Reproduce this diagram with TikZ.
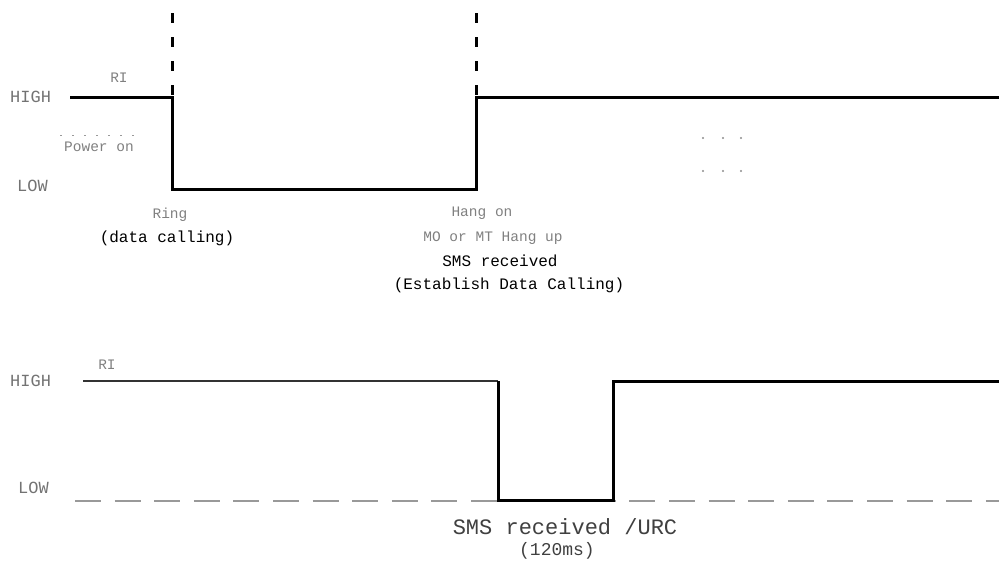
\documentclass[tikz,border=0pt]{standalone}
\usepackage{fontspec}
\setmonofont{Liberation Mono}
\tikzset{
  signal/.style={
    line width=3pt,
    line join=miter
  },
  thinsignal/.style={
    line width=2pt,
    black!80
  },
  guide/.style={
    line width=3pt,
    dash pattern=on 10pt off 14pt
  },
  lowdash/.style={
    line width=2pt,
    black!40,
    dash pattern=on 26pt off 13.6pt
  },
  greytext/.style={
    text=black!50,
    inner sep=0pt,
    font=\ttfamily\fontsize{14.5}{16}\selectfont
  },
  blacktext/.style={
    text=black,
    inner sep=0pt,
    font=\ttfamily\fontsize{16}{18}\selectfont
  },
  leveltext/.style={
    text=black!55,
    inner sep=0pt,
    anchor=west,
    font=\ttfamily\fontsize{17}{19}\selectfont
  },
  pdot/.style={
    circle,
    fill=black!45,
    inner sep=0pt,
    minimum size=2.2pt
  }
}
\begin{document}
\begin{tikzpicture}[x=1pt,y=-1pt]
  \useasboundingbox (0,0) rectangle (999,560);
  % RI during a call
  \coordinate (a0) at (70,97);
  \coordinate (a1) at (172,97);
  \coordinate (a2) at (172,189);
  \coordinate (a3) at (476,189);
  \coordinate (a4) at (476,97);
  \coordinate (a5) at (999,97);
  \coordinate (g1) at (172,13);
  \coordinate (g2) at (476,13);
  \draw[signal] (a0) -- (a1) -- (a2) -- (a3) -- (a4) -- (a5);
  \draw[guide] (g1) -- (a1);
  \draw[guide] (g2) -- (a4);
  \coordinate (p0) at (60,135);
  \coordinate (p1) at (137,135);
  \draw[black!40, line width=1pt, dash pattern=on 1.5pt off 10.5pt] (p0) -- (p1);
  \foreach \x in {703,723,741}{
      \foreach \y in {138,171}{
          \node[pdot] (d\x\y) at (\x,\y) {};
        }
    }
  \node[leveltext] (high1) at (10,97) {HIGH};
  \node[leveltext] (low1) at (17,186) {LOW};
  \node[greytext] (ri1) at (119,78) {RI};
  \node[greytext] (pwr) at (99,147) {Power on};
  \node[greytext] (ring) at (170,215) {Ring};
  \node[blacktext] (dcall) at (167,238) {(data calling)};
  \node[greytext] (hang) at (482,213) {Hang on};
  \node[greytext] (hangup) at (493,238) {MO or MT Hang up};
  \node[blacktext] (sms1) at (500,261) {SMS received};
  \node[blacktext] (estab) at (509,285) {(Establish Data Calling)};
  % RI on an SMS / URC
  \coordinate (b0) at (83,381);
  \coordinate (b1) at (498,381);
  \coordinate (b2) at (498,500);
  \coordinate (b3) at (613,500);
  \coordinate (b4) at (613,381);
  \coordinate (b5) at (999,381);
  \coordinate (l0) at (75,501);
  \coordinate (l1) at (999,501);
  \draw[lowdash] (l0) -- (l1);
  \draw[thinsignal] (b0) -- (b1);
  \draw[signal] (b1) -- (b2) -- (b3) -- (b4) -- (b5);
  \node[leveltext] (high2) at (10,381) {HIGH};
  \node[leveltext] (low2) at (18,488) {LOW};
  \node[greytext] (ri2) at (107,365) {RI};
  \node[blacktext, text=black!75, font=\ttfamily\fontsize{22}{24}\selectfont] (sms2) at (565,527) {SMS received /URC};
  \node[blacktext, text=black!75, font=\ttfamily\fontsize{18}{20}\selectfont] (dur) at (557,551) {(120ms)};
\end{tikzpicture}
\end{document}
